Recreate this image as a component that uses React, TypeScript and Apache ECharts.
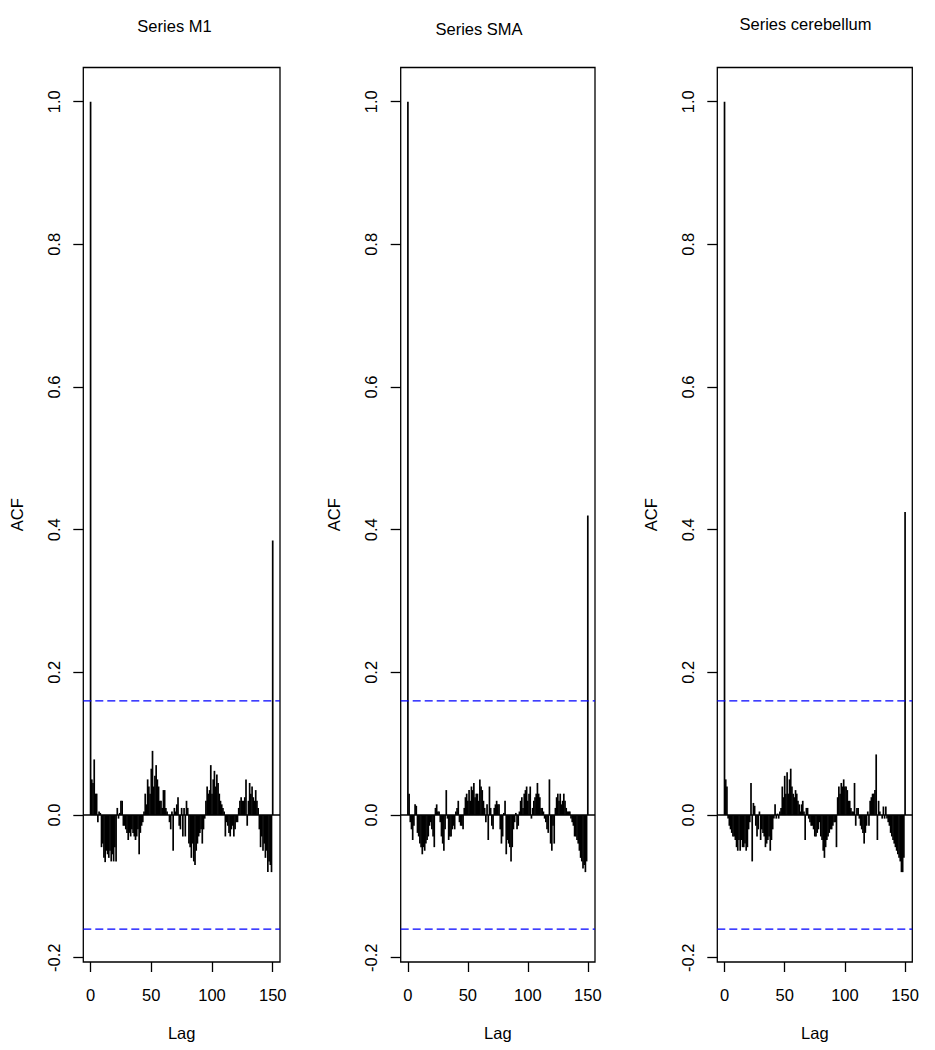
import React, { useEffect, useRef } from "react";
import * as echarts from "echarts";

const TITLES = ["Series M1", "Series SMA", "Series cerebellum"];
const X_TICKS = [0, 50, 100, 150];
const Y_TICKS = [-0.2, 0, 0.2, 0.4, 0.6, 0.8, 1.0];
const CLIM = 0.16;
const X_MIN = -6;
const X_MAX = 156;

const ACF_M1 = [
  1.0, 0.05, 0.045, 0.078, 0.03, 0.03, -0.01, 0.005, 0.003, -0.045,
  -0.04, -0.06, -0.066, -0.05, -0.055, -0.06, -0.05, -0.065, -0.055, -0.065,
  -0.045, -0.065, 0.01, -0.005, 0.003, 0.02, 0.02, -0.015, -0.015, -0.02,
  -0.025, -0.035, -0.025, -0.03, -0.02, -0.025, -0.03, -0.035, -0.03, -0.02,
  -0.055, -0.025, -0.015, -0.01, 0.005, 0.03, 0.015, 0.05, 0.04, 0.03,
  0.065, 0.09, 0.04, 0.055, 0.07, 0.05, 0.04, 0.02, 0.02, 0.01,
  0.035, 0.035, 0.01, 0.005, 0.0, -0.01, -0.02, 0.005, -0.05, 0.01,
  0.005, 0.015, 0.025, -0.015, -0.02, 0.01, -0.03, 0.01, -0.03, 0.02,
  0.01, -0.04, -0.045, -0.06, -0.04, -0.065, -0.07, -0.05, -0.04, -0.03,
  -0.025, -0.02, -0.04, -0.02, -0.005, 0.02, 0.04, 0.03, 0.035, 0.07,
  0.03, 0.05, 0.062, 0.04, 0.057, 0.045, 0.03, 0.02, 0.015, 0.01,
  0.005, -0.03, -0.01, -0.015, -0.025, -0.03, -0.02, -0.015, -0.03, -0.02,
  -0.01, -0.01, 0.01, 0.02, 0.025, 0.02, 0.02, 0.025, 0.05, -0.015,
  0.02, 0.045, 0.03, 0.04, 0.025, 0.02, 0.035, 0.02, 0.01, -0.02,
  -0.045, -0.03, -0.05, -0.04, -0.06, -0.05, -0.08, -0.065, -0.07, -0.08,
  0.385,
];

const ACF_SMA = [
  1.0, 0.03, -0.01, -0.02, -0.035, -0.015, 0.015, 0.013, -0.025, -0.03,
  -0.04, -0.045, -0.055, -0.045, -0.05, -0.04, -0.035, -0.03, -0.015, -0.01,
  -0.02, -0.03, -0.045, 0.01, 0.015, 0.005, 0.005, -0.01, -0.03, -0.04,
  -0.05, -0.02, 0.035, -0.005, -0.035, -0.03, -0.03, -0.02, -0.015, -0.02,
  0.005, 0.01, 0.02, -0.01, -0.015, -0.015, -0.02, 0.01, 0.025, 0.03,
  0.02, 0.035, 0.02, 0.04, 0.035, 0.045, 0.025, 0.03, 0.03, 0.02,
  0.05, 0.04, 0.035, 0.02, 0.01, -0.01, 0.015, -0.035, 0.04, 0.01,
  -0.015, -0.02, 0.01, 0.015, 0.02, 0.015, 0.015, -0.02, -0.04, -0.03,
  0.003, 0.02, -0.055, -0.035, -0.04, -0.045, -0.065, -0.045, -0.02, -0.01,
  0.003, -0.02, -0.015, 0.005, 0.02, 0.025, 0.01, 0.03, 0.035, 0.04,
  0.02, 0.03, 0.04, -0.005, 0.01, 0.02, 0.025, 0.03, 0.045, 0.03,
  0.025, 0.01, 0.01, 0.005, -0.005, -0.01, -0.02, -0.025, 0.05, -0.04,
  -0.05, -0.015, -0.04, 0.01, 0.025, 0.03, 0.02, 0.03, 0.015, 0.02,
  0.03, 0.02, 0.01, 0.005, 0.005, 0.005, -0.005, -0.01, -0.015, -0.03,
  -0.03, -0.035, -0.04, -0.05, -0.06, -0.065, -0.075, -0.07, -0.08, -0.065,
  0.42,
];

const ACF_CEREBELLUM = [
  1.0, 0.05, 0.04, -0.005, -0.015, -0.02, -0.025, -0.03, -0.03, -0.035,
  -0.045, -0.05, -0.035, -0.05, -0.035, -0.045, -0.045, -0.04, -0.05, -0.045,
  -0.02, -0.01, 0.045, -0.065, 0.017, 0.013, -0.015, -0.03, -0.02, 0.005,
  -0.035, -0.02, -0.025, -0.03, -0.045, -0.04, -0.035, -0.03, -0.05, -0.035,
  -0.02, -0.005, 0.015, -0.005, 0.002, -0.005, 0.005, 0.01, 0.04, 0.025,
  0.055, 0.03, 0.06, 0.03, 0.05, 0.065, 0.04, 0.03, 0.025, 0.035,
  0.03, 0.02, 0.015, 0.005, 0.015, 0.02, 0.005, -0.035, 0.01, 0.01,
  -0.005, -0.01, -0.015, -0.015, -0.02, -0.03, -0.03, -0.025, -0.02, -0.01,
  -0.03, -0.035, -0.05, -0.06, -0.045, -0.035, -0.03, -0.025, -0.02, -0.02,
  -0.015, -0.01, -0.01, -0.045, 0.025, 0.04, 0.03, 0.045, 0.04, 0.05,
  0.04, 0.04, 0.035, 0.02, 0.02, 0.01, 0.005, 0.005, 0.045, -0.015,
  0.01, 0.01, -0.005, -0.015, -0.02, -0.025, -0.04, -0.025, -0.015, 0.005,
  -0.015, 0.02, 0.025, 0.03, 0.03, 0.035, 0.085, -0.035, 0.02, 0.005,
  0.0, -0.005, 0.012, -0.005, 0.012, -0.005, -0.01, -0.015, -0.025, -0.03,
  -0.035, -0.04, -0.045, -0.05, -0.055, -0.06, -0.065, -0.08, -0.08, -0.06,
  0.425,
];

const SERIES = [ACF_M1, ACF_SMA, ACF_CEREBELLUM];

// layout (pixels)
const LEFTS = [83.3, 400.7, 717.3];
const WIDTHS = [196.7, 194.3, 195];
const GRID_TOP = 67.5;
const GRID_HEIGHT = 894.5;
const TITLE_X = [174.5, 479, 805.5];
const TITLE_Y = [26, 29.3, 24];

const FONT = "'Liberation Sans', Arial, sans-serif";
const FS = 16.5;

export default function App() {
  const ref = useRef<HTMLDivElement>(null);

  useEffect(() => {
    if (!ref.current) return;
    const chart = echarts.init(ref.current, null, { renderer: "svg" });

    const refLine = (i: number, y: number, color: string, type: any, width: number) => ({
      type: "line",
      xAxisIndex: i,
      yAxisIndex: i,
      data: [
        [X_MIN, y],
        [X_MAX, y],
      ],
      symbol: "none",
      silent: true,
      lineStyle: { color, type, width },
      z: 3,
    });

    const series: any[] = [];
    SERIES.forEach((vals, i) => {
      series.push({
        type: "custom",
        xAxisIndex: i,
        yAxisIndex: i,
        data: vals.map((v, lag) => [lag, v]),
        encode: { x: 0, y: 1 },
        clip: true,
        z: 2,
        renderItem: (params: any, api: any) => {
          const lag = api.value(0);
          const v = api.value(1);
          const p0 = api.coord([lag, 0]);
          const p1 = api.coord([lag, v]);
          return {
            type: "line",
            shape: { x1: p0[0], y1: p0[1], x2: p1[0], y2: p1[1] },
            style: { stroke: "#000", lineWidth: 1.7 },
          };
        },
      });
      series.push(refLine(i, 0, "#000", "solid", 1.4));
      series.push(refLine(i, CLIM, "#0000ff", [8, 4], 1.2));
      series.push(refLine(i, -CLIM, "#0000ff", [8, 4], 1.2));
    });

    const option: any = {
      animation: false,
      backgroundColor: "#ffffff",
      textStyle: { fontFamily: FONT },
      grid: SERIES.map((_, i) => ({
        left: LEFTS[i],
        top: GRID_TOP,
        width: WIDTHS[i],
        height: GRID_HEIGHT,
        show: true,
        borderColor: "#000",
        borderWidth: 1.3,
        backgroundColor: "transparent",
      })),
      xAxis: SERIES.map((_, i) => ({
        type: "value",
        gridIndex: i,
        min: X_MIN,
        max: X_MAX,
        name: "Lag",
        nameLocation: "middle",
        nameGap: 62,
        nameTextStyle: { color: "#000", fontSize: FS, fontFamily: FONT },
        axisLine: { show: false, onZero: false },
        splitLine: { show: false },
        axisTick: {
          show: true,
          length: 10,
          lineStyle: { color: "#000", width: 1.3 },
          customValues: X_TICKS,
        },
        axisLabel: {
          customValues: X_TICKS,
          margin: 24,
          color: "#000",
          fontSize: FS,
          fontFamily: FONT,
          formatter: (v: number) => String(v),
        },
      })),
      yAxis: SERIES.map((_, i) => ({
        type: "value",
        gridIndex: i,
        min: -0.206,
        max: 1.048,
        name: "ACF",
        nameLocation: "middle",
        nameRotate: 90,
        nameGap: 58,
        nameTextStyle: { color: "#000", fontSize: FS, fontFamily: FONT },
        axisLine: { show: false, onZero: false },
        splitLine: { show: false },
        axisTick: {
          show: true,
          length: 10,
          lineStyle: { color: "#000", width: 1.3 },
          customValues: Y_TICKS,
        },
        axisLabel: {
          customValues: Y_TICKS,
          rotate: 90,
          margin: 21,
          color: "#000",
          fontSize: FS,
          fontFamily: FONT,
          formatter: (v: number) => v.toFixed(1),
        },
      })),
      series,
      graphic: TITLES.map((t, i) => ({
        type: "text",
        x: TITLE_X[i],
        y: TITLE_Y[i],
        style: {
          text: t,
          fill: "#000",
          font: `${FS}px ${FONT}`,
          textAlign: "center",
          textVerticalAlign: "middle",
        },
      })),
    };

    chart.setOption(option);
    return () => chart.dispose();
  }, []);

  return (
    <div
      ref={ref}
      style={{ position: "absolute", left: 0, top: 0, width: 935, height: 1050 }}
    />
  );
}
